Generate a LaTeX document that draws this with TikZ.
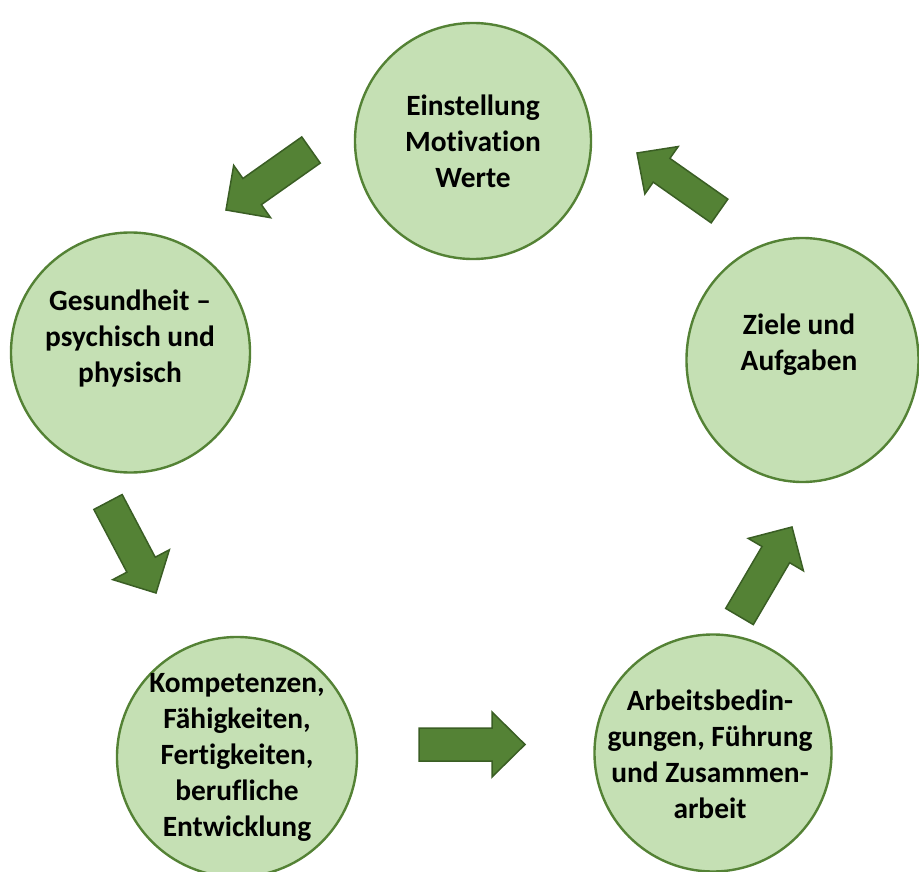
\documentclass[tikz,border=0pt]{standalone}
\usepackage{fontspec}
\setmainfont{Carlito}[Ligatures={TeX,NoCommon}]
\usetikzlibrary{calc,shapes.geometric}
\definecolor{circfill}{HTML}{C5E0B4}
\definecolor{circline}{HTML}{548235}
\definecolor{arrfill}{HTML}{548235}
\definecolor{arrline}{HTML}{3A5E24}
\newcommand\blockarrow[5]{%
  \coordinate (#1j) at ($(#2)!#5!(#1)$);
  \draw[blockarr] ($(#1)!#3!90:(#2)$) -- ($(#1j)!#3!90:(#2)$) -- ($(#1j)!#4!90:(#2)$) -- (#2)
    -- ($(#1j)!#4!-90:(#2)$) -- ($(#1j)!#3!-90:(#2)$) -- ($(#1)!#3!-90:(#2)$) -- cycle;}
\begin{document}
\begin{tikzpicture}[x=1pt,y=-1pt,
  bubble/.style={ellipse, fill=circfill, draw=circline, line width=2.4pt, inner sep=0pt},
  lbl/.style={align=center, font=\fontsize{29.4}{36}\selectfont\bfseries, text=black},
  blockarr/.style={fill=arrfill, draw=arrline, line width=1.5pt, line join=miter}]
\useasboundingbox (0,0) rectangle (919,872);

% circles
\node[bubble, minimum width=236pt, minimum height=236pt] (c1) at (473,141) {};
\node[bubble, minimum width=239pt, minimum height=240pt] (c2) at (130.5,352.5) {};
\node[bubble, minimum width=240pt, minimum height=240pt] (c3) at (237,757) {};
\node[bubble, minimum width=237pt, minimum height=237pt] (c4) at (713,753) {};
\node[bubble, minimum width=232pt, minimum height=244pt] (c5) at (802.5,360) {};

% labels
\node[lbl] (t1) at (473,141) {Einstellung\\Motivation\\Werte};
\node[lbl] (t2) at (130,338) {Gesundheit –\\psychisch und\\physisch};
\node[lbl] (t3) at (237,757) {Kompetenzen,\\Fähigkeiten,\\Fertigkeiten,\\berufliche\\Entwicklung};
\node[lbl] (t4) at (710,754) {Arbeitsbedin-\\gungen, Führung\\und Zusammen-\\arbeit};
\node[lbl] (t5) at (799,345) {Ziele und\\Aufgaben};

% arrows
\coordinate (a1) at (311,150);   \coordinate (a1h) at (226,210);
\coordinate (a2) at (719.5,211); \coordinate (a2h) at (637,153);
\coordinate (a3) at (108,502);   \coordinate (a3h) at (156,593);
\coordinate (a4) at (419,744.5); \coordinate (a4h) at (525,744.5);
\coordinate (a5) at (739.5,616.5); \coordinate (a5h) at (792,527);
\blockarrow{a1}{a1h}{16pt}{32pt}{32pt}
\blockarrow{a2}{a2h}{14.5pt}{29pt}{30pt}
\blockarrow{a3}{a3h}{16pt}{32pt}{32pt}
\blockarrow{a4}{a4h}{16.5pt}{32.5pt}{33pt}
\blockarrow{a5}{a5h}{16pt}{32pt}{32pt}
\end{tikzpicture}
\end{document}
